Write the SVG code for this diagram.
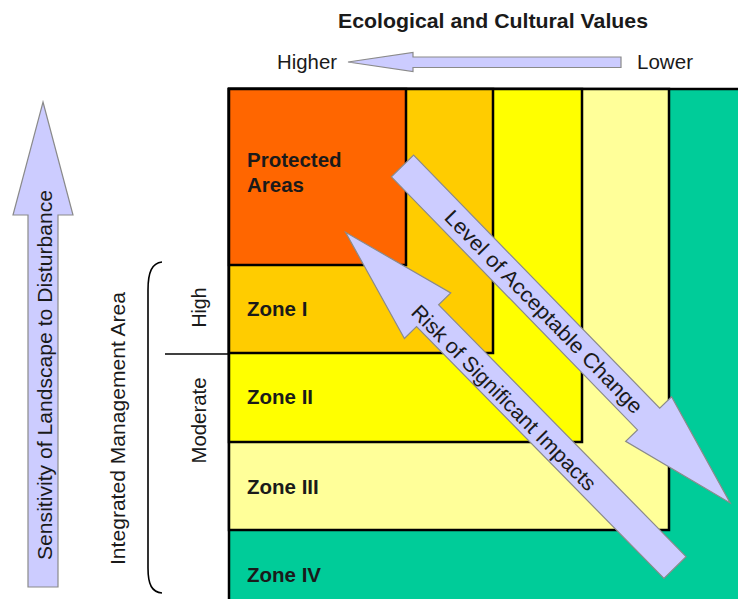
<svg xmlns="http://www.w3.org/2000/svg" width="738" height="599" viewBox="0 0 738 599">
<style>
.zone{stroke:#000;stroke-width:2.5}
.lbl{font-family:"Liberation Sans",Arial,sans-serif;font-size:21px;fill:#1a1a1a}
.zl{font-family:"Liberation Sans",Arial,sans-serif;font-size:20.5px;font-weight:bold;fill:#1a1a1a}
.arr{fill:#ccccff;stroke:#8a8a8a;stroke-width:1.2;stroke-linejoin:miter}
.ln{fill:none;stroke:#000;stroke-width:1.6}
</style>
<rect width="738" height="599" fill="#ffffff"/>
<text class="zl" x="493" y="28" text-anchor="middle" textLength="310" lengthAdjust="spacingAndGlyphs">Ecological and Cultural Values</text>
<text class="lbl" x="277" y="69" textLength="60" lengthAdjust="spacingAndGlyphs">Higher</text>
<text class="lbl" x="637" y="69" textLength="56" lengthAdjust="spacingAndGlyphs">Lower</text>
<g id="zone4"><rect class="zone" x="229" y="89" width="520" height="520" fill="#00cc99"/><text class="zl" x="247" y="582">Zone IV</text></g>
<g id="zone3"><rect class="zone" x="229" y="89" width="440" height="441" fill="#ffff99"/><text class="zl" x="247" y="494">Zone III</text></g>
<g id="zone2"><rect class="zone" x="229" y="89" width="353" height="353" fill="#ffff00"/><text class="zl" x="247" y="404">Zone II</text></g>
<g id="zone1"><rect class="zone" x="229" y="89" width="264" height="264" fill="#ffcc00"/><text class="zl" x="247" y="316">Zone I</text></g>
<g id="protected"><rect class="zone" x="229" y="89" width="177" height="176" fill="#ff6600"/><text class="zl" x="247" y="167">Protected</text><text class="zl" x="247" y="192">Areas</text></g>
<g id="axes">
<path class="ln" d="M162,262 C152,263 148,272 148,290 L148,568 C148,585 152,592 162,593"/>
<path class="ln" d="M165,354 L229,354"/>
<text class="lbl" transform="translate(125,428.5) rotate(-90)" text-anchor="middle" textLength="273" lengthAdjust="spacingAndGlyphs">Integrated Management Area</text>
<text class="lbl" transform="translate(206,307.5) rotate(-90)" text-anchor="middle" textLength="40" lengthAdjust="spacingAndGlyphs">High</text>
<text class="lbl" transform="translate(206,420.5) rotate(-90)" text-anchor="middle" textLength="86" lengthAdjust="spacingAndGlyphs">Moderate</text>
</g>
<g id="connectors">
<path class="arr" d="M348,62 L413,52.5 L413,57 L621,57 L621,67.5 L413,67.5 L413,71.5 Z"/>
<path class="arr" d="M43,102 L73,215 L58,215 L58,587 L28,587 L28,215 L13,215 Z"/>
<text class="lbl" transform="translate(52,375) rotate(-90)" text-anchor="middle" textLength="370" lengthAdjust="spacingAndGlyphs">Sensitivity of Landscape to Disturbance</text>
<g transform="translate(402.5,166) rotate(45.8)">
<path class="arr" d="M0,-15.5 L353,-15.5 L353,-32 L470,0 L353,32 L353,15.5 L0,15.5 Z"/>
<text class="lbl" x="203" y="7.5" text-anchor="middle" textLength="274" lengthAdjust="spacingAndGlyphs">Level of Acceptable Change</text>
</g>
<g transform="translate(675,567.5) rotate(225.5)">
<path class="arr" d="M0,-15.5 L353,-15.5 L353,-32.5 L470,0 L353,32.5 L353,15.5 L0,15.5 Z"/>
</g>
<text class="lbl" transform="translate(504,397.5) rotate(45.2)" x="0" y="7.5" text-anchor="middle" textLength="252" lengthAdjust="spacingAndGlyphs">Risk of Significant Impacts</text>
</g>
</svg>
